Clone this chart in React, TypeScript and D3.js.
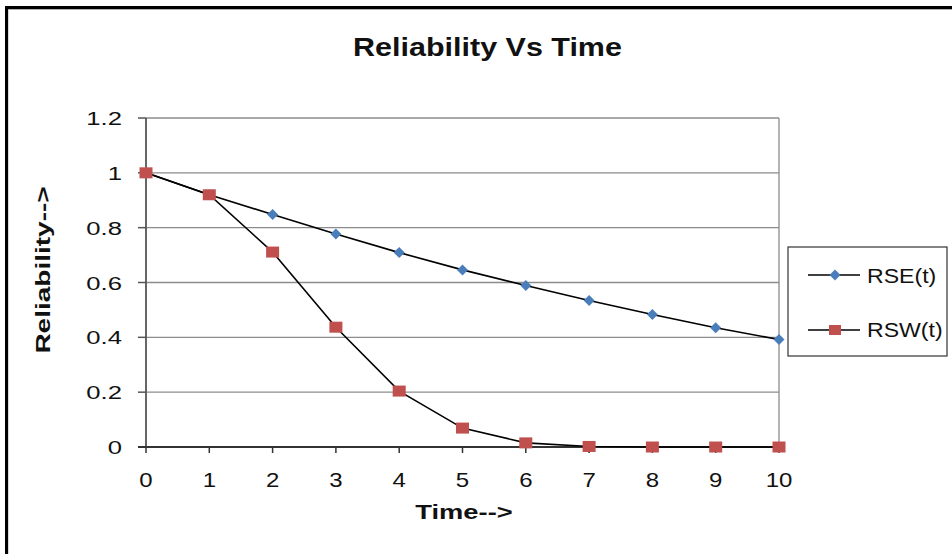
import React from "react";
import * as d3 from "d3";

const times = [0, 1, 2, 3, 4, 5, 6, 7, 8, 9, 10];
const rse = [1, 0.92, 0.848, 0.777, 0.709, 0.646, 0.589, 0.534, 0.483, 0.435, 0.392];
const rsw = [1, 0.92, 0.711, 0.437, 0.204, 0.069, 0.015, 0.002, 0, 0, 0];
const yTicks = [0, 0.2, 0.4, 0.6, 0.8, 1, 1.2];
const seriesNames = ["RSE(t)", "RSW(t)"];
const titleText = "Reliability Vs Time";
const xTitle = "Time-->";
const yTitle = "Reliability-->";

const W = 952;
const H = 554;
const FONT = "'Liberation Sans', Arial, sans-serif";
const BLUE = "#4A7EBB";
const RED = "#C0504D";

function SText(props: {
  x: number;
  y: number;
  sx: number;
  size: number;
  anchor?: string;
  bold?: boolean;
  rotate?: number;
  children: React.ReactNode;
}) {
  const { x, y, sx, size, anchor = "start", bold = false, rotate = 0, children } = props;
  return (
    <text
      transform={`translate(${x},${y}) rotate(${rotate}) scale(${sx},1)`}
      textAnchor={anchor}
      fontFamily={FONT}
      fontWeight={bold ? "bold" : "normal"}
      fontSize={size}
      fill="#111"
    >
      {children}
    </text>
  );
}

export default function App() {
  const x = d3.scaleLinear().domain([0, 10]).range([146, 779]);
  const y = d3.scaleLinear().domain([0, 1.2]).range([447, 118]);
  const line = d3
    .line<number>()
    .x((_, i) => x(times[i]))
    .y((d) => y(d));

  const diamond = (cx: number, cy: number, r: number) =>
    `M${cx},${cy - r}L${cx + r},${cy}L${cx},${cy + r}L${cx - r},${cy}Z`;

  return (
    <div style={{ position: "absolute", left: 0, top: 0, width: W, height: H }}>
      <svg width={W} height={H} style={{ display: "block", background: "#fff" }}>
        {/* outer frame */}
        <rect x={7.5} y={9} width={970} height={580} fill="none" stroke="#b0b0b0" strokeWidth={2} />
        <rect x={6.5} y={7.5} width={970} height={580} fill="none" stroke="#000" strokeWidth={3} />

        {/* title */}
        <SText x={487.5} y={56} sx={1.22} size={25} anchor="middle" bold>
          {titleText}
        </SText>

        {/* gridlines */}
        {yTicks.filter((t) => t > 0).map((t) => (
          <line key={t} x1={x(0)} x2={x(10)} y1={y(t)} y2={y(t)} stroke="#8c8c8c" strokeWidth={1.3} />
        ))}
        {/* plot right border */}
        <line x1={x(10)} x2={x(10)} y1={y(1.2)} y2={y(0)} stroke="#8c8c8c" strokeWidth={1.3} />

        {/* y axis */}
        <line x1={x(0)} x2={x(0)} y1={y(1.2)} y2={y(0)} stroke="#555" strokeWidth={1.8} />
        {yTicks.map((t) => (
          <g key={t}>
            <line x1={x(0) - 8} x2={x(0)} y1={y(t)} y2={y(t)} stroke="#555" strokeWidth={1.5} />
            <SText x={122} y={y(t) + 7} sx={1.35} size={19} anchor="end">
              {d3.format("~g")(t)}
            </SText>
          </g>
        ))}

        {/* x axis */}
        <line x1={x(0) - 8} x2={x(10)} y1={y(0)} y2={y(0)} stroke="#333" strokeWidth={1.8} />
        {times.map((t) => (
          <g key={t}>
            <line x1={x(t)} x2={x(t)} y1={y(0)} y2={y(0) + 6} stroke="#333" strokeWidth={1.5} />
            <SText x={x(t)} y={487} sx={1.2} size={20} anchor="middle">
              {t}
            </SText>
          </g>
        ))}

        {/* axis titles */}
        <SText x={464} y={519} sx={1.3} size={21} anchor="middle" bold>
          {xTitle}
        </SText>
        <SText x={50} y={270} sx={1.4} size={20} anchor="middle" bold rotate={-90}>
          {yTitle}
        </SText>

        {/* series lines */}
        <path d={line(rse) || ""} fill="none" stroke="#000" strokeWidth={1.6} />
        <path d={line(rsw) || ""} fill="none" stroke="#000" strokeWidth={1.6} />

        {/* markers */}
        {rse.map((v, i) => (
          <path key={"e" + i} d={diamond(x(times[i]), y(v), 5.5)} fill={BLUE} />
        ))}
        {rsw.map((v, i) => (
          <rect key={"w" + i} x={x(times[i]) - 6.5} y={y(v) - 5.5} width={13} height={11} fill={RED} />
        ))}

        {/* legend */}
        <rect x={788} y={247} width={159} height={109} fill="#fff" stroke="#333" strokeWidth={1.2} />
        <line x1={808} x2={860} y1={275} y2={275} stroke="#000" strokeWidth={1.6} />
        <path d={diamond(835, 275, 5.5)} fill={BLUE} />
        <SText x={867} y={283} sx={1.1} size={21}>
          {seriesNames[0]}
        </SText>
        <line x1={808} x2={860} y1={330} y2={330} stroke="#000" strokeWidth={1.6} />
        <rect x={829} y={325} width={12} height={10} fill={RED} />
        <SText x={867} y={337} sx={1.1} size={21}>
          {seriesNames[1]}
        </SText>
      </svg>
    </div>
  );
}
